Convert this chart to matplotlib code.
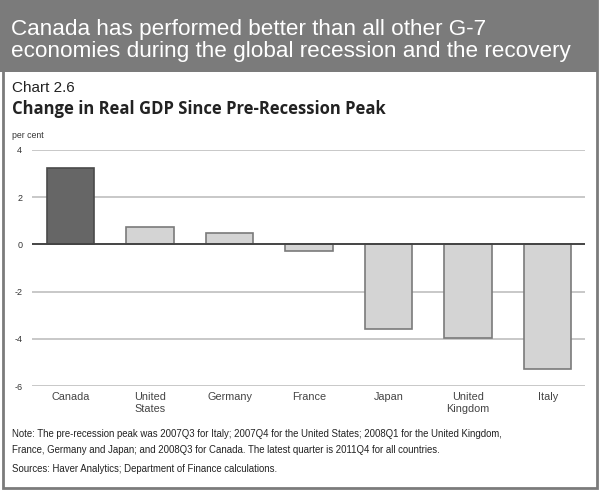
import matplotlib
matplotlib.use("Agg")
import matplotlib.pyplot as plt
from matplotlib.patches import Rectangle

# data (per cent change since pre-recession peak)
countries = ["Canada", "United\nStates", "Germany", "France", "Japan", "United\nKingdom", "Italy"]
gdp_change = [3.25, 0.75, 0.5, -0.3, -3.6, -3.95, -5.3]
yticks = [4, 2, 0, -2, -4, -6]

W, H = 600, 491
fig = plt.figure(figsize=(W / 100, H / 100), dpi=100)
fig.patch.set_facecolor("white")

def fx(px):
    return px / W

def fy(py):
    return 1 - py / H

# header band and outer frame
fig.patches.append(Rectangle((0, fy(72)), fx(597), 72 / H, transform=fig.transFigure,
                             facecolor="#7b7b7b", edgecolor="none", zorder=0))
fig.patches.append(Rectangle((fx(2.5), fy(488)), fx(594.5), 488 / H, transform=fig.transFigure,
                             facecolor="none", edgecolor="#7b7b7b", linewidth=2, zorder=1))

fig.text(fx(11), fy(29), "Canada has performed better than all other G-7",
         color="white", fontsize=16.2, family="Liberation Sans", va="center")
fig.text(fx(11), fy(52), "economies during the global recession and the recovery",
         color="white", fontsize=16.2, family="Liberation Sans", va="center")
fig.text(fx(12), fy(88), "Chart 2.6", fontsize=11, family="Liberation Sans",
         va="center", color="#222222")
fig.text(fx(12), fy(109), "Change in Real GDP Since Pre-Recession Peak", fontsize=12,
         family="Open Sans", weight="bold", va="center", color="#222222")
fig.text(fx(12), fy(136), "per cent", fontsize=6.3, family="Liberation Sans", va="center",
         color="#333333")

# axes placed so that y=4 sits at 150 px and y=-6 at 386 px
ax = fig.add_axes([fx(32), fy(386), fx(585) - fx(32), (386 - 150) / H])
x = list(range(len(countries)))
colors = ["#666666"] + ["#d4d4d4"] * (len(countries) - 1)
edges = ["#4a4a4a"] + ["#7a7a7a"] * (len(countries) - 1)
ax.bar(x, gdp_change, width=0.6, color=colors, edgecolor=edges, linewidth=1.2, zorder=3)

ax.set_ylim(-6, 4)
ax.set_xlim(-0.485, 6.47)
ax.set_yticks(yticks)
ax.set_yticklabels([str(v) for v in yticks], fontsize=6.5, family="Liberation Sans",
                   color="#333333")
for v in yticks:
    if v != 0:
        ax.axhline(v, color="#c8c8c8", linewidth=1.4, zorder=1)
ax.axhline(0, color="#444444", linewidth=1.4, zorder=4)

ax.set_xticks(x)
ax.set_xticklabels(countries, fontsize=7.8, family="Liberation Sans", color="#444444",
                   va="top", linespacing=1.25)
ax.tick_params(axis="both", length=0)
ax.tick_params(axis="y", pad=7)
ax.tick_params(axis="x", pad=4)
for s in ax.spines.values():
    s.set_visible(False)
ax.set_facecolor("none")

note = ("Note: The pre-recession peak was 2007Q3 for Italy; 2007Q4 for the United States; "
        "2008Q1 for the United Kingdom,\nFrance, Germany and Japan; and 2008Q3 for Canada. "
        "The latest quarter is 2011Q4 for all countries.")
fig.text(fx(12), fy(442), note, fontsize=6.9, family="Liberation Sans", va="center",
         linespacing=1.85, color="#222222")
fig.text(fx(12), fy(469), "Sources: Haver Analytics; Department of Finance calculations.",
         fontsize=6.9, family="Liberation Sans", va="center", color="#222222")

fig.savefig("out.png", dpi=100)
